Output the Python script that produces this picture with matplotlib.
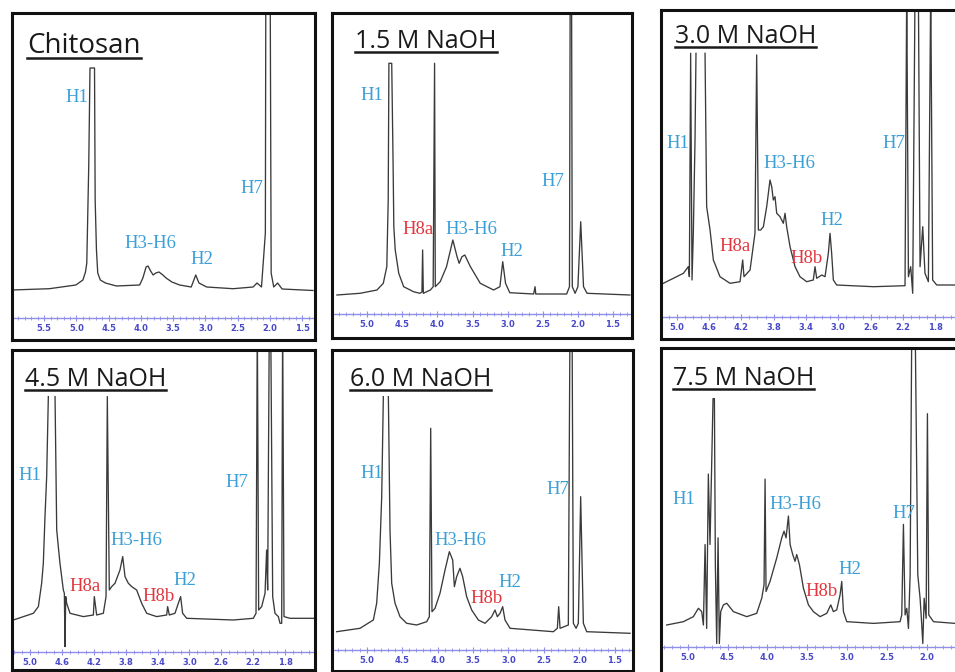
import numpy as np
import matplotlib
matplotlib.use('Agg')
import matplotlib.pyplot as plt
from matplotlib.lines import Line2D
from matplotlib.ticker import MultipleLocator

W, H = 955, 672
nan = np.nan

# ---------------- data (ppm, relative intensity) ----------------
titles = ["Chitosan", "1.5 M NaOH", "3.0 M NaOH", "4.5 M NaOH", "6.0 M NaOH", "7.5 M NaOH"]

p1_ppm = [6.00, 5.42, 5.01, 4.90, 4.86, 4.84, 4.81, 4.79, 4.72, 4.71, 4.69, 4.67, 4.63, 4.55, 4.38,
          4.02, 3.97, 3.92, 3.89, 3.85, 3.81, 3.77, 3.72, 3.66, 3.61, 3.52, 3.40, 3.22, 3.15, 3.10,
          2.98, 2.57, 2.26, 2.20, 2.13, 2.07, 2.06, 2.00, 1.98, 1.94, 1.88, 1.81, 1.33]
p1_int = [0, 1.3, 5, 10, 18, 27, 123, 222, 222, 90, 40, 17, 10, 7, 4,
          5, 12, 23, 24, 19, 15, 17, 18, 15, 12, 8, 5, 3, 15, 7,
          3, 1.3, 3, 7, 3, 57, 400, 400, 17, 3, 7, 1, -0.5]

p2_ppm = [5.43, 5.10, 4.86, 4.77, 4.72, 4.70, 4.69, 4.65, 4.63, 4.62, 4.60, 4.55, 4.48, 4.34, 4.25,
          4.22, 4.21, 4.20, 4.10, 4.06, 4.04, 4.03, 3.96, 3.87, 3.78, 3.72, 3.69, 3.65, 3.61, 3.53,
          3.39, 3.20, 3.11, 3.07, 3.03, 2.97, 2.63, 2.61, 2.60, 2.16, 2.12, 2.11, 2.09, 2.08, 2.04,
          2.00, 1.96, 1.92, 1.87, 1.26]
p2_int = [0, 1.7, 5, 11.7, 28.3, 95, 231.7, 231.7, 128.3, 68.3, 45, 21.7, 8.3, 3.3, 1.7,
          3, 45, 1.7, 5, 8.3, 231.7, 8.3, 13.3, 28.3, 55, 38.3, 31.7, 38.3, 40, 28.3,
          11.7, 5, 8.3, 33.3, 11.7, 2.3, 1, 8.3, 1, 1, 8.3, 300, 300, 8.3, 1.7,
          8.3, 73.3, 8.3, 1.7, 0]

p3_ppm = [5.165, 5.041, 4.917, 4.856, 4.843, 4.827, 4.810, 4.794, 4.773, 4.761, nan, 4.649, 4.629,
          4.587, 4.546, 4.464, 4.340, 4.216, 4.183, 4.167, 4.092, 4.031, 4.010, 3.989, 3.960, 3.927,
          3.886, 3.845, 3.824, 3.804, 3.783, 3.762, 3.721, 3.680, 3.659, 3.639, 3.597, 3.535, 3.474,
          3.391, 3.309, 3.288, 3.267, 3.205, 3.164, 3.123, 3.102, 3.082, 3.061, 3.020, 2.566, 2.174,
          2.153, 2.132, 2.104, 2.079, 2.050, 2.009, 1.988, 1.955, 1.927, 1.885, 1.856, 1.832, 1.782,
          1.555]
p3_int = [2.7, 7.7, 12.7, 19.3, 9.3, 232.7, 6, 52.7, 146, 232.7, nan, 232.7, 79.3,
          56, 26, 9.3, 2.7, 4.3, 26, 9.3, 16, 52.7, 231, 56, 56, 59.3,
          79.3, 106, 99.3, 86, 89.3, 72.7, 69.3, 62.7, 72.7, 59.3, 39.3, 19.3, 9.3,
          4.3, 6, 19.3, 7.7, 11, 9.3, 32.7, 52.7, 32.7, 6, 1, -0.7, 0.3,
          300, 9.3, 19.3, -7.3, 300, 300, 19.3, 59.3, 12.7, 4.3, 300, 6, 1,
          1]

p4_ppm = [5.209, 4.958, 4.895, 4.854, 4.833, 4.812, 4.791, 4.770, nan, 4.686, 4.665, 4.645, 4.624,
          4.582, 4.569, 4.561, 4.552, 4.540, 4.498, 4.331, 4.205, 4.193, 4.164, 4.080, 4.046, 4.030,
          4.005, 3.975, 3.934, 3.871, 3.837, 3.808, 3.766, 3.724, 3.662, 3.599, 3.536, 3.411, 3.285,
          3.273, 3.252, 3.181, 3.139, 3.110, 3.085, 3.034, 2.449, 2.198, 2.164, 2.148, 2.131, 2.093,
          2.051, 2.031, 2.018, 1.997, 1.980, 1.955, 1.926, 1.884, 1.863, 1.842, 1.830, 1.813, 1.738,
          1.445]
p4_int = [-1.7, 5, 11.7, 35, 55, 101.7, 141.7, 221.7, nan, 221.7, 88.3, 71.7, 55,
          28.3, 25, -28.3, 21.7, 15, 5, 1.7, 3.3, 21.7, 3.3, 5, 21.7, 221.7,
          28.3, 31.7, 35, 48.3, 61.7, 41.7, 35, 31.7, 28.3, 15, 5, 1.7, 3.3,
          11.7, 3.3, 5, 15, 21.7, 5, 0, -1.7, 0, 5, 300, 8.3, 11.7,
          25, 68.3, 28.3, 300, 300, 21.7, 5, 1.7, -5, -5, 300, 1.7, 0,
          0]

p5_ppm = [5.423, 5.094, 4.906, 4.859, 4.821, 4.788, 4.765, nan, 4.694, 4.671, 4.647, 4.600, 4.530,
          4.436, 4.295, 4.154, 4.116, 4.097, 4.079, 4.036, 3.966, 3.895, 3.834, 3.787, 3.763, 3.731,
          3.684, 3.646, 3.590, 3.519, 3.425, 3.331, 3.237, 3.190, 3.157, 3.119, 3.082, 3.049, 2.978,
          2.367, 2.311, 2.292, 2.273, 2.156, 2.132, 2.104, 2.085, 2.047, 2.015, 1.982, 1.944, 1.897,
          1.286]
p5_int = [0.3, 3.7, 12, 28.7, 68.7, 135.3, 235.3, nan, 235.3, 102, 48.7, 28.7, 15.3,
          8.7, 7, 10.3, 15.3, 203.7, 20.3, 23.7, 38.7, 62, 80.3, 72, 45.3, 55.3,
          63.7, 55.3, 35.3, 22, 12, 8.7, 15.3, 22, 15.3, 18.7, 25.3, 12, 3.7,
          0.3, 3.7, 25.3, 3.7, 7, 320, 320, 8.7, 3.7, 8.7, 135.3, 8.7, 0.3,
          -1.3]

p6_ppm = [5.264, 5.054, 4.929, 4.866, 4.824, 4.803, 4.782, 4.762, 4.741, 4.720, 4.699, 4.682, 4.665,
          4.653, 4.636, 4.619, 4.603, 4.586, 4.552, 4.510, 4.427, 4.259, 4.134, 4.071, 4.042, 4.029,
          4.017, 3.967, 3.883, 3.820, 3.791, 3.766, 3.736, 3.715, 3.682, 3.653, 3.632, 3.598, 3.548,
          3.485, 3.423, 3.339, 3.255, 3.205, 3.172, 3.130, 3.088, 3.067, 3.046, 3.004, 2.669, 2.335,
          2.314, 2.293, 2.272, 2.251, 2.230, 2.209, 2.188, 2.146, 2.113, 2.084, 2.063, 2.050, 2.033,
          2.008, 1.992, 1.975, 1.916, 1.644]
p6_int = [-1.6, 1.7, 6.7, 15, 11.7, -1.6, 78.4, -5, 148.4, 78.4, 158.4, 223.4, 223.4,
          58.4, -20, 85, -20, 11.7, 18.4, 20, 11.7, 6.7, 10, 25, 38.4, 143.4,
          31.7, 41.7, 65, 85, 91.7, 85, 106.7, 78.4, 68.4, 61.7, 68.4, 58.4, 35,
          18.4, 11.7, 6.7, 10, 18.4, 11.7, 13.4, 28.4, 41.7, 11.7, 1.7, 0, 1.7,
          8.4, 98.4, 8.4, 15, -5, 48.4, 300, 300, 48.4, 25, -1.6, -20, 25,
          5, 208.4, 8.4, 1.7, 0]

# peak assignment labels: (text, ppm, intensity, kind)
p1_labels = [("H1", 5.00, 193, "b"), ("H3-H6", 3.86, 46.7, "b"), ("H2", 3.06, 30.7, "b"), ("H7", 2.28, 101.7, "b")]
p2_labels = [("H1", 4.93, 200, "b"), ("H8a", 4.27, 65, "r"), ("H3-H6", 3.51, 65, "b"), ("H2", 2.94, 43.3, "b"),
             ("H7", 2.35, 113.3, "b")]
p3_labels = [("H1", 4.98, 142, "b"), ("H3-H6", 3.60, 122.7, "b"), ("H8a", 4.28, 39.3, "r"), ("H8b", 3.39, 27.7, "r"),
             ("H2", 3.08, 65.3, "b"), ("H7", 2.31, 142, "b")]
p4_labels = [("H1", 5.00, 143.3, "b"), ("H8a", 4.31, 31.6, "r"), ("H3-H6", 3.66, 77.6, "b"), ("H8b", 3.39, 21.6, "r"),
             ("H2", 3.06, 37.6, "b"), ("H7", 2.40, 135.6, "b")]
p5_labels = [("H1", 4.93, 158, "b"), ("H3-H6", 3.68, 91.3, "b"), ("H8b", 3.31, 33.7, "r"), ("H2", 2.98, 49.3, "b"),
             ("H7", 2.31, 142, "b")]
p6_labels = [("H1", 5.05, 123.4, "b"), ("H3-H6", 3.65, 118.4, "b"), ("H8b", 3.32, 31.7, "r"), ("H2", 2.96, 53.4, "b"),
             ("H7", 2.29, 109, "b")]

ticks_a = [5.5, 5.0, 4.5, 4.0, 3.5, 3.0, 2.5, 2.0, 1.5]
ticks_b = [5.0, 4.6, 4.2, 3.8, 3.4, 3.0, 2.6, 2.2, 1.8]
ticks_c = [5.0, 4.5, 4.0, 3.5, 3.0, 2.5, 2.0, 1.5]
ticks_d = [5.0, 4.5, 4.0, 3.5, 3.0, 2.5, 2.0]

# ---------------- layout (pixels) ----------------
panels = [
    dict(ppm=p1_ppm, inten=p1_int, labels=p1_labels, ticks=ticks_a, box=(12, 13, 315, 340),
         xlim=(6.00, 1.30), ylim=(-50, 277), axis_y=318, title_xy=(27, 53), tsize=20, ul=5),
    dict(ppm=p2_ppm, inten=p2_int, labels=p2_labels, ticks=ticks_c, box=(332, 13, 632, 338),
         xlim=(5.50, 1.23), ylim=(-43, 282), axis_y=314, title_xy=(355, 48), tsize=18, ul=4),
    dict(ppm=p3_ppm, inten=p3_int, labels=p3_labels, ticks=ticks_b, box=(661, 10, 975, 339),
         xlim=(5.194, 1.308), ylim=(-53, 276), axis_y=317, title_xy=(675, 43), tsize=18, ul=4),
    dict(ppm=p4_ppm, inten=p4_int, labels=p4_labels, ticks=ticks_b, box=(12, 350, 315, 670),
         xlim=(5.226, 1.424), ylim=(-51.7, 268.3), axis_y=652, title_xy=(25, 386), tsize=18, ul=4),
    dict(ppm=p5_ppm, inten=p5_int, labels=p5_labels, ticks=ticks_c, box=(332, 350, 633, 671),
         xlim=(5.489, 1.244), ylim=(-39, 282), axis_y=650, title_xy=(350, 386), tsize=18, ul=4),
    dict(ppm=p6_ppm, inten=p6_int, labels=p6_labels, ticks=ticks_d, box=(661, 348, 975, 674),
         xlim=(5.335, 1.395), ylim=(-50.3, 273.7), axis_y=647, title_xy=(673, 385), tsize=18, ul=4),
]

label_colors = {"b": "#3a9fd8", "r": "#e2363f"}

fig = plt.figure(figsize=(W / 100, H / 100), dpi=100)
fig.patch.set_facecolor("white")

title_artists = []
for p, title in zip(panels, titles):
    x0, y0, x1, y1 = p["box"]
    ax = fig.add_axes([x0 / W, 1 - y1 / H, (x1 - x0) / W, (y1 - y0) / H])
    ax.plot(p["ppm"], p["inten"], color="#3a3a3a", lw=0.95)
    ax.set_xlim(*p["xlim"])
    ax.set_ylim(*p["ylim"])
    ax.set_xticks([])
    ax.set_yticks([])
    for s in ax.spines.values():
        s.set_linewidth(2.2)
        s.set_color("#111111")
    # inner ppm axis
    loc = (y1 - p["axis_y"]) / (y1 - y0)
    sec = ax.secondary_xaxis(loc)
    sec.set_xticks(p["ticks"], labels=[f"{t:.1f}" for t in p["ticks"]])
    sec.xaxis.set_minor_locator(MultipleLocator(0.1))
    sec.spines["bottom"].set_color("#8f8fe8")
    sec.spines["bottom"].set_linewidth(1.0)
    sec.tick_params(axis="x", which="major", direction="inout", length=4, width=0.8,
                    colors="#8f8fe8", labelcolor="#4848c8", labelsize=6, pad=2)
    sec.tick_params(axis="x", which="minor", direction="inout", length=2.5, width=0.6, colors="#8f8fe8")
    for lab in sec.get_xticklabels():
        lab.set_fontweight("bold")
    # peak assignment labels
    for txt, xp, yi, kind in p["labels"]:
        ax.text(xp, yi, txt, ha="center", va="center", fontsize=13.5,
                family="Liberation Serif", color=label_colors[kind])
    tx, ty = p["title_xy"]
    t = fig.text(tx / W, 1 - ty / H, title, ha="left", va="baseline",
                 fontsize=p["tsize"], family="Open Sans", color="#1a1a1a")
    title_artists.append((t, ty, p["ul"]))

fig.canvas.draw()
renderer = fig.canvas.get_renderer()
for t, ty, ul in title_artists:
    bb = t.get_window_extent(renderer)
    yl = 1 - (ty + ul) / H
    fig.add_artist(Line2D([bb.x0 / W, bb.x1 / W], [yl, yl], transform=fig.transFigure,
                          color="#1a1a1a", lw=1.8))

fig.savefig("out.png", dpi=100)
